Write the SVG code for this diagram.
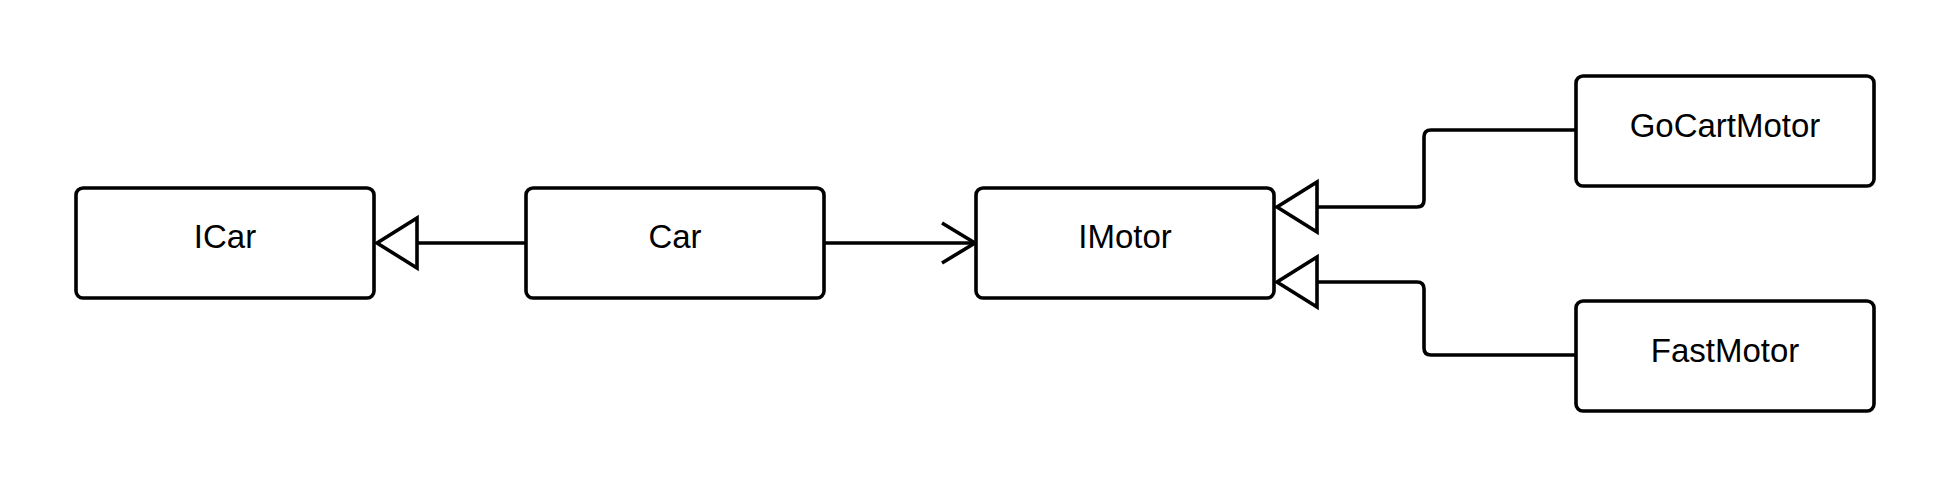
<svg xmlns="http://www.w3.org/2000/svg" width="1950" height="488" viewBox="0 0 1950 488">
  <style>
    .box { fill: #ffffff; stroke: #000000; stroke-width: 3.6; }
    .lbl { font-family: "Liberation Sans", Arial, sans-serif; font-size: 33px; fill: #000000; text-anchor: middle; }
    .edge { fill: none; stroke: #000000; stroke-width: 3.6; }
  </style>
  <defs>
    <marker id="tri" markerUnits="userSpaceOnUse" markerWidth="44" markerHeight="54" viewBox="-2 -2 44 54" refX="40" refY="25" orient="auto" overflow="visible">
      <path d="M0,0 L40,25 L0,50 Z" fill="#ffffff" stroke="#000000" stroke-width="3.6"/>
    </marker>
    <marker id="open" markerUnits="userSpaceOnUse" markerWidth="38" markerHeight="44" viewBox="-2 -2 38 44" refX="33" refY="20" orient="auto" overflow="visible">
      <path d="M0,0 L33,20 L0,40" fill="none" stroke="#000000" stroke-width="3.6"/>
    </marker>
  </defs>
  <rect width="1950" height="488" fill="#ffffff"/>
  <g id="connectors">
    <path class="edge" d="M525,243 H377" marker-end="url(#tri)"/>
    <path class="edge" d="M825,243 H975" marker-end="url(#open)"/>
    <path class="edge" d="M1575,130 H1431 Q1424,130 1424,137 V200 Q1424,207 1417,207 H1277" marker-end="url(#tri)"/>
    <path class="edge" d="M1575,355 H1431 Q1424,355 1424,348 V289 Q1424,282 1417,282 H1277" marker-end="url(#tri)"/>
  </g>
  <g id="ICar">
    <rect class="box" x="76" y="188" width="298" height="110" rx="7"/>
    <text class="lbl" x="225" y="248">ICar</text>
  </g>
  <g id="Car">
    <rect class="box" x="526" y="188" width="298" height="110" rx="7"/>
    <text class="lbl" x="675" y="248">Car</text>
  </g>
  <g id="IMotor">
    <rect class="box" x="976" y="188" width="298" height="110" rx="7"/>
    <text class="lbl" x="1125" y="248">IMotor</text>
  </g>
  <g id="GoCartMotor">
    <rect class="box" x="1576" y="76" width="298" height="110" rx="7"/>
    <text class="lbl" x="1725" y="137">GoCartMotor</text>
  </g>
  <g id="FastMotor">
    <rect class="box" x="1576" y="301" width="298" height="110" rx="7"/>
    <text class="lbl" x="1725" y="362">FastMotor</text>
  </g>
</svg>
